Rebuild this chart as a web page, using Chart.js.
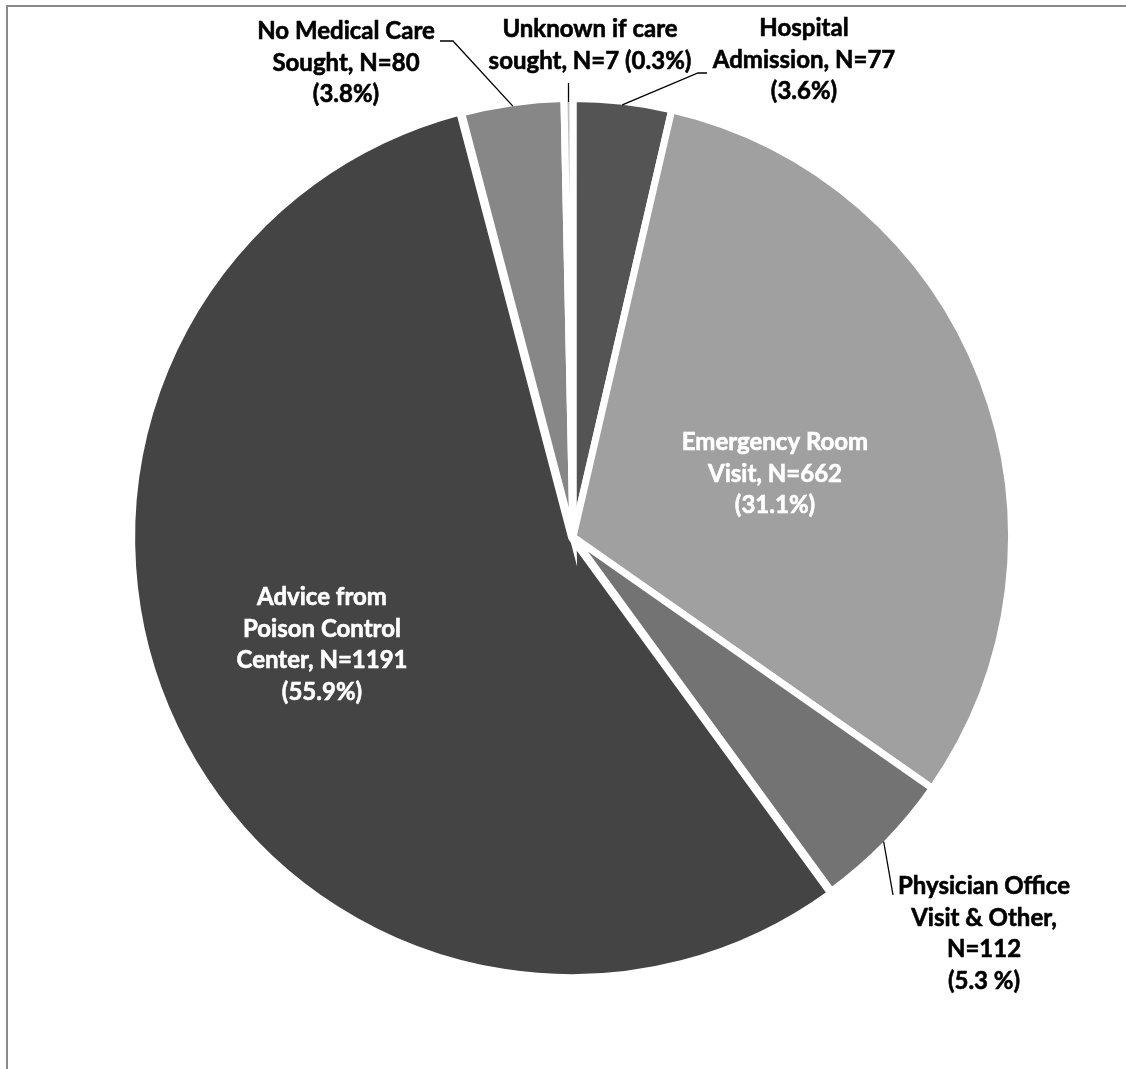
<!DOCTYPE html>
<html>
<head>
<meta charset="utf-8">
<title>Medical care sought</title>
<script src="https://cdn.jsdelivr.net/npm/chart.js@4.4.1/dist/chart.umd.min.js"></script>
<style>
  html, body { margin: 0; padding: 0; background: #fff; overflow: hidden; }
  #wrap { position: relative; width: 1126px; height: 1069px; }
  #frame { position: absolute; left: 6px; top: 5px; width: 1300px; height: 1300px;
           border-left: 2px solid #8a8a8a; border-top: 2px solid #8a8a8a; }
  canvas { position: absolute; left: 0; top: 0; }
</style>
</head>
<body>
<div id="wrap">
  <div id="frame"></div>
  <canvas id="careChart" width="1126" height="1069"></canvas>
</div>
<script>
// data, clockwise from 12 o'clock
var categories = ["Hospital Admission", "Emergency Room Visit", "Physician Office Visit & Other",
                  "Advice from Poison Control Center", "No Medical Care Sought", "Unknown if care sought"];
var counts = [77, 662, 112, 1191, 80, 7];
var labelLines = [
  ["Hospital", "Admission, N=77", "(3.6%)"],
  ["Emergency Room", "Visit, N=662", "(31.1%)"],
  ["Physician Office", "Visit & Other,", "N=112", "(5.3 %)"],
  ["Advice from", "Poison Control", "Center, N=1191", "(55.9%)"],
  ["No Medical Care", "Sought, N=80", "(3.8%)"],
  ["Unknown if care", "sought, N=7 (0.3%)"]
];
var sliceColors = ["#545454", "#a0a0a0", "#737373", "#444444", "#878787", "#bfbfbf"];

// where each label sits, relative to the pie centre (first baseline)
var labelSpots = [
  { dx: 231, dy: -501, color: "#000", elbow: [[125, -464], [134, -464]] },
  { dx: 202, dy: -87, color: "#fff" },
  { dx: 411, dy: 357, color: "#000", elbow: [[320, 358]] },
  { dx: -251, dy: 68, color: "#fff" },
  { dx: -227, dy: -498, color: "#000", elbow: [[-120, -496], [-133, -496]] },
  { dx: 17, dy: -500, color: "#000", upTo: -454 }
];

var BORDER = 7;

var labelPlugin = {
  id: "sliceLabels",
  afterDatasetsDraw: function (chart) {
    var ctx = chart.ctx;
    var meta = chart.getDatasetMeta(0);
    ctx.save();
    meta.data.forEach(function (arc, i) {
      var p = arc.getProps(["x", "y", "startAngle", "endAngle", "outerRadius"], true);
      var spot = labelSpots[i];
      var cx = p.x, cy = p.y;
      var mid = (p.startAngle + p.endAngle) / 2;
      var r = p.outerRadius - BORDER / 2;
      var sx = cx + Math.cos(mid) * r;
      var sy = cy + Math.sin(mid) * r;

      // leader lines
      ctx.strokeStyle = "#000";
      ctx.lineWidth = 1.3;
      if (spot.elbow) {
        ctx.beginPath();
        ctx.moveTo(sx, sy);
        spot.elbow.forEach(function (pt) { ctx.lineTo(cx + pt[0], cy + pt[1]); });
        ctx.stroke();
      } else if (spot.upTo !== undefined) {
        ctx.beginPath();
        ctx.moveTo(sx, sy);
        ctx.lineTo(sx, cy + spot.upTo);
        ctx.stroke();
      }

      // text (a thin stroke to get closer to the heavy Calibri look)
      ctx.fillStyle = spot.color;
      ctx.strokeStyle = spot.color;
      ctx.lineWidth = 0.6;
      ctx.font = "bold 24px Lato";
      ctx.textAlign = "center";
      ctx.textBaseline = "alphabetic";
      labelLines[i].forEach(function (line, k) {
        var ty = cy + spot.dy + k * 31.5;
        ctx.fillText(line, cx + spot.dx, ty);
        ctx.strokeText(line, cx + spot.dx, ty);
      });
    });
    ctx.restore();
  }
};

var chart = new Chart(document.getElementById("careChart"), {
  type: "pie",
  data: {
    labels: categories,
    datasets: [{
      data: counts,
      backgroundColor: sliceColors,
      borderColor: "#ffffff",
      borderWidth: BORDER,
      borderJoinStyle: "miter",
      offset: [0, 0, 0, 6, 0, 0]
    }]
  },
  options: {
    responsive: false,
    animation: false,
    layout: { padding: { left: 128, top: 92, right: 108, bottom: 87 } },
    plugins: {
      legend: { display: false },
      tooltip: { enabled: false }
    }
  },
  plugins: [labelPlugin]
});
</script>
</body>
</html>
